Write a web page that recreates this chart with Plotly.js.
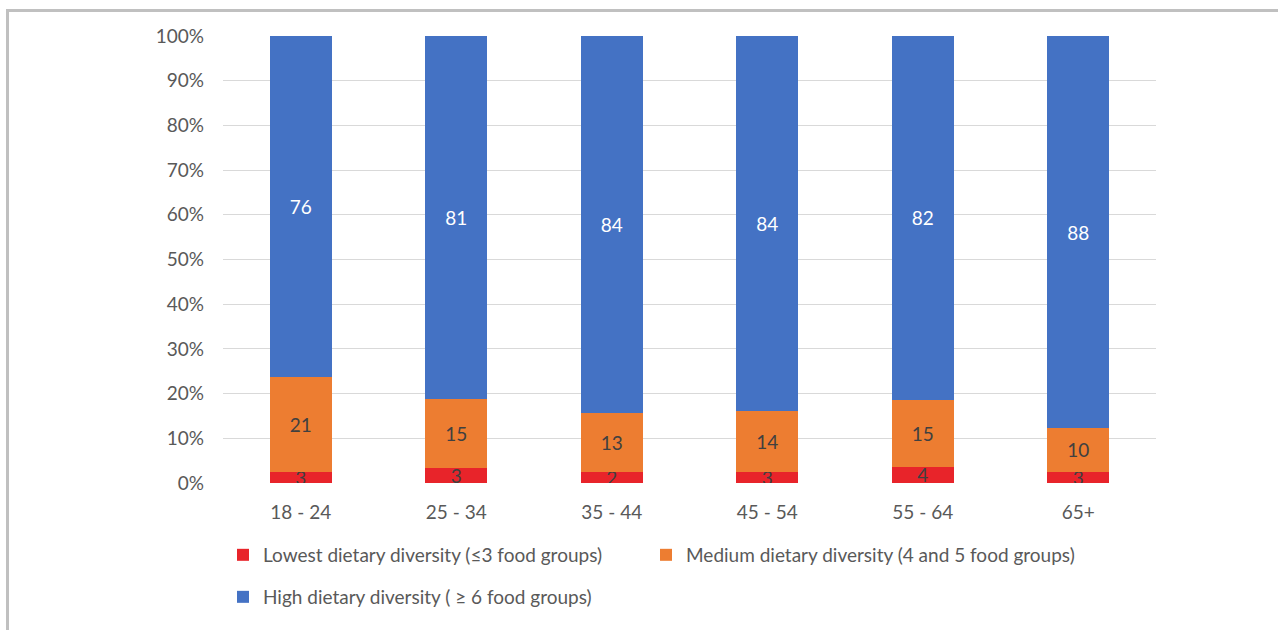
<!DOCTYPE html>
<html>
<head>
<meta charset="utf-8">
<script src="https://cdn.plot.ly/plotly-3.0.1.min.js"></script>
<style>
html,body{margin:0;padding:0;background:#fff;}
#frame{position:absolute;left:6px;top:9px;width:1272px;height:621px;border-top:3px solid #c0c0c0;border-left:3px solid #c0c0c0;box-sizing:border-box;}
#chart{position:absolute;left:0;top:0;width:1278px;height:630px;}
</style>
</head>
<body>
<div id="frame"></div>
<div id="chart"></div>
<script>
// Categories (age groups)
var categories = ['18 - 24', '25 - 34', '35 - 44', '45 - 54', '55 - 64', '65+'];
// Bar segment heights (% of respondents)
var lowestValues = [2.5, 3.3, 2.5, 2.5, 3.6, 2.5];
var mediumValues = [21.3, 15.6, 13.2, 13.7, 15.0, 9.8];
var highValues = [76.2, 81.1, 84.3, 83.8, 81.4, 87.7];
// Labels printed on the segments
var lowestLabels = ['3', '3', '2', '3', '4', '3'];
var mediumLabels = ['21', '15', '13', '14', '15', '10'];
var highLabels = ['76', '81', '84', '84', '82', '88'];
// Y-axis ticks
var yTickVals = [0, 10, 20, 30, 40, 50, 60, 70, 80, 90, 100];
var yTickText = ['0%', '10%', '20%', '30%', '40%', '50%', '60%', '70%', '80%', '90%', '100%'];
// Series names
var seriesNames = ['Lowest dietary diversity (\u22643 food groups)', 'Medium dietary diversity (4 and 5 food groups)', 'High dietary diversity ( \u2265 6 food groups)'];

var FONT = 'Lato, "Open Sans", sans-serif';

function barTrace(vals, labels, name, color, textColor, legendId) {
  return {
    type: 'bar',
    x: categories,
    y: vals,
    name: name,
    text: labels,
    textposition: 'inside',
    insidetextanchor: 'middle',
    constraintext: 'none',
    textangle: 0,
    textfont: {family: FONT, size: 19, color: textColor},
    marker: {color: color, line: {width: 0}},
    legend: legendId,
    hoverinfo: 'skip'
  };
}

var data = [
  barTrace(lowestValues, lowestLabels, seriesNames[0], '#E8242A', '#404040', 'legend'),
  barTrace(mediumValues, mediumLabels, seriesNames[1], '#ED7D31', '#404040', 'legend2'),
  barTrace(highValues, highLabels, seriesNames[2], '#4472C4', '#ffffff', 'legend3')
];

var legendCommon = {
  orientation: 'h',
  xref: 'paper', yref: 'paper',
  xanchor: 'left', yanchor: 'middle',
  font: {family: FONT, size: 19, color: '#595959'},
  bgcolor: 'rgba(0,0,0,0)',
  traceorder: 'normal',
  itemwidth: 30
};

var layout = {
  width: 1278,
  height: 630,
  margin: {l: 223, r: 122, t: 36, b: 147},
  paper_bgcolor: 'rgba(0,0,0,0)',
  plot_bgcolor: 'rgba(0,0,0,0)',
  barmode: 'stack',
  bargap: 0.6,
  showlegend: true,
  font: {family: FONT, color: '#595959'},
  xaxis: {
    type: 'category',
    showgrid: false,
    showline: false,
    zeroline: false,
    ticks: '',
    ticklabelstandoff: 16,
    tickfont: {family: FONT, size: 19, color: '#595959'},
    automargin: false
  },
  yaxis: {
    range: [0, 100],
    tickvals: yTickVals,
    ticktext: yTickText,
    showgrid: true,
    gridcolor: '#d9d9d9',
    gridwidth: 1,
    zeroline: false,
    showline: false,
    ticks: '',
    ticklen: 0,
    ticklabelstandoff: 18,
    tickfont: {family: FONT, size: 19, color: '#595959'},
    automargin: false
  },
  legend: Object.assign({}, legendCommon, {x: 0.0, y: -0.161}),
  legend2: Object.assign({}, legendCommon, {x: 0.4534, y: -0.161}),
  legend3: Object.assign({}, legendCommon, {x: 0.0, y: -0.255})
};

Plotly.newPlot('chart', data, layout, {displayModeBar: false, staticPlot: true});
</script>
</body>
</html>
